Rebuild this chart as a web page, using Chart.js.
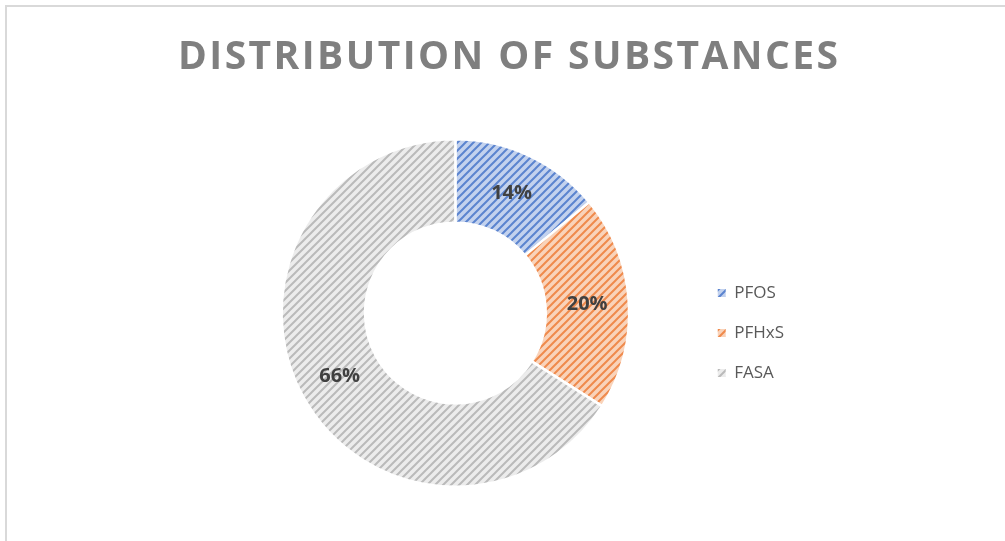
<!DOCTYPE html>
<html>
<head>
<meta charset="utf-8">
<script src="https://cdn.jsdelivr.net/npm/chart.js@4"></script>
<style>
  html, body { margin: 0; padding: 0; background: #fff; }
  #wrap { position: relative; width: 1005px; height: 541px; overflow: hidden; }
  #frame { position: absolute; left: 5px; top: 5px; width: 1100px; height: 600px;
           border-top: 2px solid #d9d9d9; border-left: 2px solid #d9d9d9; }
  #grafico { position: absolute; left: 0; top: 0; }
</style>
</head>
<body>
<div id="wrap">
  <div id="frame"></div>
  <canvas id="grafico" width="1005" height="541"></canvas>
</div>
<script>
const titulo = 'DISTRIBUTION OF SUBSTANCES';
const sustancias = ['PFOS', 'PFHxS', 'FASA'];
const porcentajes = [14, 20, 66];

// color de las rayas y color de fondo de cada trama
const rayas = ['#5b84cf', '#ef8a4c', '#bababa'];
const fondos = ['#c3d2ee', '#f9d3ba', '#ececec'];

const canvas = document.getElementById('grafico');
const ctx = canvas.getContext('2d');

// trama diagonal tipo Excel
function crearTrama(raya, fondo) {
  const c = document.createElement('canvas');
  c.width = c.height = 8;
  const g = c.getContext('2d');
  g.fillStyle = fondo;
  g.fillRect(0, 0, 8, 8);
  g.strokeStyle = raya;
  g.lineWidth = 2;
  g.beginPath();
  g.moveTo(-2, 10); g.lineTo(10, -2);
  g.moveTo(-2, 2); g.lineTo(2, -2);
  g.moveTo(6, 10); g.lineTo(10, 6);
  g.stroke();
  return ctx.createPattern(c, 'repeat');
}

const tramas = rayas.map((r, i) => crearTrama(r, fondos[i]));

// titulo con espaciado entre letras
const pluginTitulo = {
  id: 'tituloEspaciado',
  afterDraw(chart) {
    const c = chart.ctx;
    c.save();
    c.font = 'bold 39px "Open Sans"';
    c.fillStyle = '#7f7f7f';
    c.textAlign = 'left';
    c.textBaseline = 'alphabetic';
    const ancho = c.measureText(titulo).width;
    const extra = (660 - ancho) / (titulo.length - 1);
    c.letterSpacing = extra + 'px';
    const anchoFinal = c.measureText(titulo).width - extra;
    c.fillText(titulo, 508 - anchoFinal / 2, 69);
    c.restore();
  }
};

// etiquetas de porcentaje dentro de cada arco
const pluginEtiquetas = {
  id: 'etiquetas',
  afterDatasetsDraw(chart) {
    const c = chart.ctx;
    const meta = chart.getDatasetMeta(0);
    c.save();
    c.font = 'bold 20px "Open Sans"';
    c.fillStyle = '#404040';
    c.textAlign = 'center';
    c.textBaseline = 'middle';
    meta.data.forEach((arc, i) => {
      const p = arc.tooltipPosition();
      c.fillText(porcentajes[i] + '%', p.x, p.y);
    });
    c.restore();
  }
};

new Chart(canvas, {
  type: 'doughnut',
  data: {
    labels: sustancias,
    datasets: [{
      data: porcentajes,
      backgroundColor: tramas,
      borderColor: '#ffffff',
      borderWidth: 2.5
    }]
  },
  options: {
    responsive: false,
    animation: false,
    cutout: '52%',
    layout: {
      padding: { left: 216, right: 211, top: 138, bottom: 53 }
    },
    plugins: {
      legend: {
        position: 'right',
        title: { display: true, text: '', font: { size: 10, lineHeight: 1 }, padding: { top: 30, bottom: 0 } },
        labels: {
          boxWidth: 8,
          boxHeight: 8,
          padding: 23,
          color: '#595959',
          font: { family: '"Open Sans"', size: 17 },
          generateLabels(chart) {
            const items = Chart.overrides.doughnut.plugins.legend.labels.generateLabels(chart);
            items.forEach(it => { it.lineWidth = 0; });
            return items;
          }
        }
      },
      tooltip: { enabled: false }
    }
  },
  plugins: [pluginTitulo, pluginEtiquetas]
});
</script>
</body>
</html>
